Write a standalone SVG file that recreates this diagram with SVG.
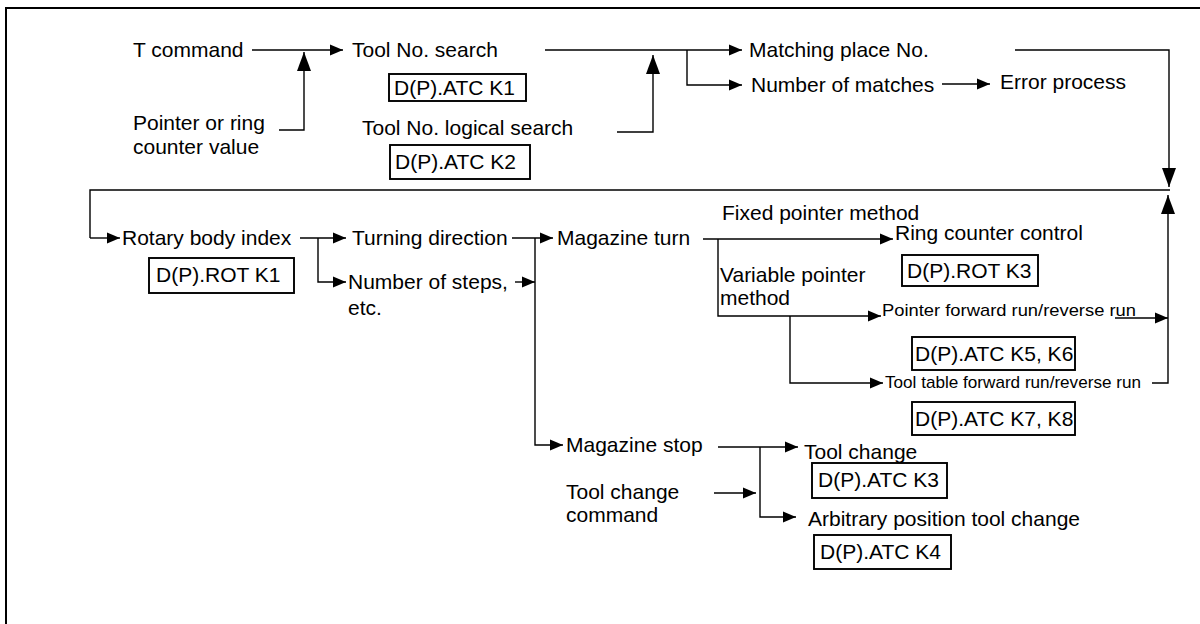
<svg xmlns="http://www.w3.org/2000/svg" width="1200" height="624" viewBox="0 0 1200 624">
<style>
text{font-family:"Liberation Sans",Arial,sans-serif;font-size:21px;fill:#000}
.sm{font-size:17px}
.ln{fill:none;stroke:#000;stroke-width:1.4}
.bx{fill:none;stroke:#000;stroke-width:1.9}
.ar{marker-end:url(#ah)}
.av{marker-end:url(#av)}
</style>
<defs>
<marker id="ah" markerUnits="userSpaceOnUse" markerWidth="14" markerHeight="12" refX="13" refY="6" orient="auto"><path d="M0,0.5 L13,6 L0,11.5 z" fill="#000"/></marker>
<marker id="av" markerUnits="userSpaceOnUse" markerWidth="20" markerHeight="16" refX="19" refY="8" orient="auto"><path d="M0,1 L19,8 L0,15 z" fill="#000"/></marker>
</defs>
<rect width="1200" height="624" fill="#fff"/>
<path d="M6,624 V8 H1200" fill="none" stroke="#000" stroke-width="2"/>
<g id="connectors">
<path class="ln ar" d="M252,50 H343"/>
<path class="ln av" d="M279,130 H304 V52"/>
<path class="ln ar" d="M545,50 H742"/>
<path class="ln ar" d="M687,50 V85 H742"/>
<path class="ln av" d="M617,132 H653 V55"/>
<path class="ln ar" d="M942,84 H990"/>
<path class="ln av" d="M1015,50 H1169 V187"/>
<path class="ln" d="M1170,190 H90 V238"/>
<path class="ln ar" d="M90,238 H120"/>
<path class="ln ar" d="M300,238 H346"/>
<path class="ln ar" d="M318,238 V282 H346"/>
<path class="ln ar" d="M512,238 H553"/>
<path class="ln ar" d="M535,238 V445 H563"/>
<path class="ln ar" d="M515,282 H535"/>
<path class="ln ar" d="M703,239 H893"/>
<path class="ln ar" d="M718,239 V316 H881"/>
<path class="ln ar" d="M790,316 V383 H883"/>
<path class="ln ar" d="M1115,318 H1168"/>
<path class="ln av" d="M1152,383 H1168 V195"/>
<path class="ln ar" d="M718,447 H798"/>
<path class="ln ar" d="M760,447 V517 H796"/>
<path class="ln ar" d="M714,493 H756"/>
</g>
<g id="t-command"><text x="133" y="57">T command</text></g>
<g id="pointer-value"><text x="133" y="130">Pointer or ring</text><text x="133" y="154">counter value</text></g>
<g id="tool-search"><text x="352" y="57">Tool No. search</text><rect class="bx" x="389" y="74" width="137" height="27"/><text x="394" y="95">D(P).ATC K1</text></g>
<g id="tool-logical"><text x="362" y="135">Tool No. logical search</text><rect class="bx" x="390" y="145" width="140" height="34"/><text x="395" y="169">D(P).ATC K2</text></g>
<g id="matching"><text x="749" y="57">Matching place No.</text></g>
<g id="num-matches"><text x="751" y="92">Number of matches</text></g>
<g id="error"><text x="1000" y="89">Error process</text></g>
<g id="rotary"><text x="122" y="245">Rotary body index</text><rect class="bx" x="149" y="258" width="145" height="35"/><text x="156" y="282">D(P).ROT K1</text></g>
<g id="turning"><text x="352" y="245">Turning direction</text></g>
<g id="steps"><text x="348" y="289">Number of steps,</text><text x="348" y="315">etc.</text></g>
<g id="mag-turn"><text x="557" y="245">Magazine turn</text></g>
<g id="fixed"><text x="722" y="220">Fixed pointer method</text></g>
<g id="ring"><text x="895" y="240">Ring counter control</text><rect class="bx" x="902" y="255" width="136" height="31"/><text x="907" y="278">D(P).ROT K3</text></g>
<g id="variable"><text x="720" y="282">Variable pointer</text><text x="720" y="305">method</text></g>
<g id="ptr-run"><text class="sm" x="882" y="316" textLength="254" lengthAdjust="spacingAndGlyphs">Pointer forward run/reverse run</text><rect class="bx" x="912" y="337" width="163" height="33"/><text x="915" y="361">D(P).ATC K5, K6</text></g>
<g id="tbl-run"><text class="sm" x="885" y="388" textLength="256" lengthAdjust="spacingAndGlyphs">Tool table forward run/reverse run</text><rect class="bx" x="912" y="402" width="163" height="33"/><text x="915" y="426">D(P).ATC K7, K8</text></g>
<g id="mag-stop"><text x="566" y="452">Magazine stop</text></g>
<g id="tc-cmd"><text x="566" y="499">Tool change</text><text x="566" y="522">command</text></g>
<g id="tool-change"><text x="804" y="459">Tool change</text><rect class="bx" x="812" y="463" width="135" height="35"/><text x="818" y="487">D(P).ATC K3</text></g>
<g id="arb"><text x="808" y="526">Arbitrary position tool change</text><rect class="bx" x="814" y="535" width="137" height="34"/><text x="820" y="559">D(P).ATC K4</text></g>
</svg>
